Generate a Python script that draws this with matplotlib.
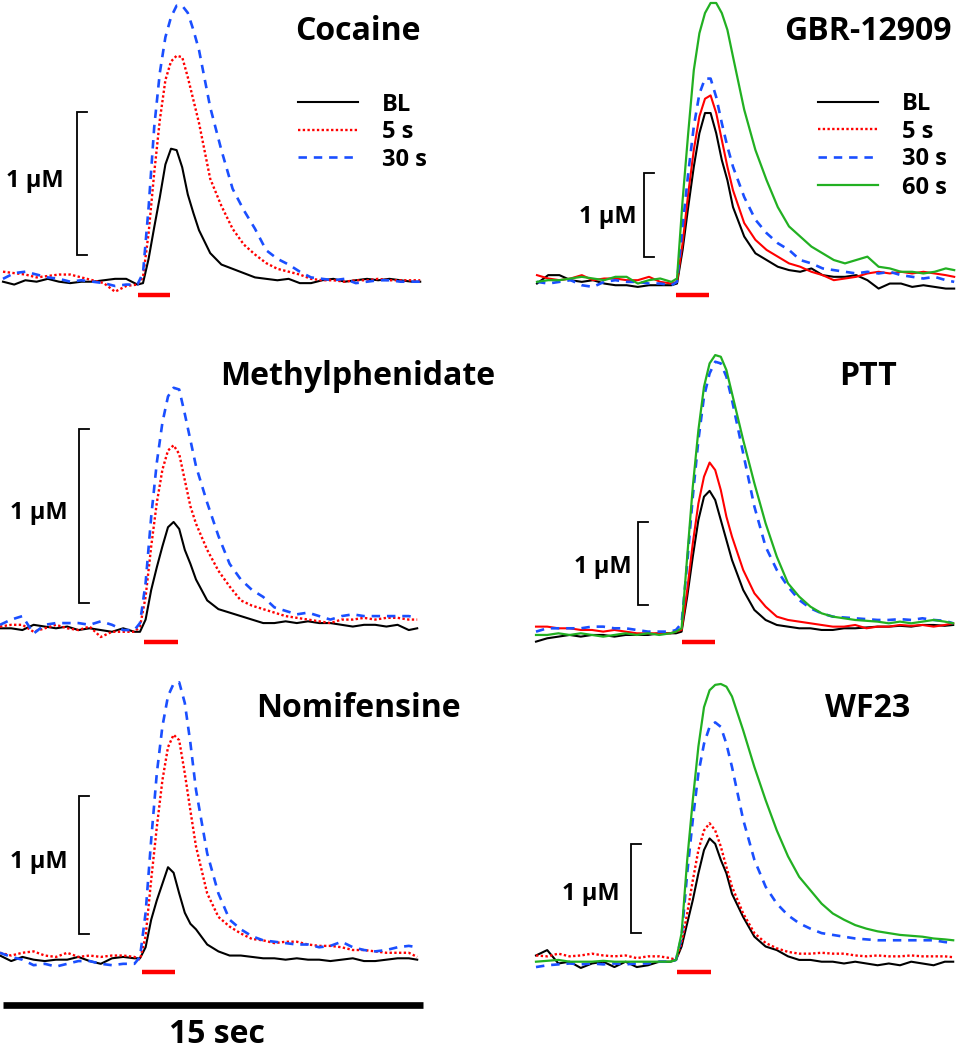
import matplotlib
matplotlib.use("Agg")
import matplotlib.pyplot as plt

plt.rcParams['font.family'] = ['Open Sans', 'DejaVu Sans']
plt.rcParams['font.weight'] = 'bold'

# ---------------- data ----------------
# sample times (s) shared by all traces
t = [0.0, 0.4, 0.8, 1.2, 1.6, 2.0, 2.4, 2.8, 3.2, 3.6, 4.0, 4.4, 4.8,
     5.0, 5.2, 5.4, 5.6, 5.8, 6.0, 6.2, 6.4, 6.6, 6.8, 7.0,
     7.4, 7.8, 8.2, 8.6, 9.0, 9.4, 9.8, 10.2, 10.6, 11.0, 11.4, 11.8,
     12.2, 12.6, 13.0, 13.4, 13.8, 14.2, 14.6, 14.9]

# dopamine concentration (uM)
cocaine_bl = [0.00, -0.02, 0.01, 0.00, 0.02, 0.00, -0.01, 0.00, 0.00, 0.01, 0.02, 0.02, -0.02,
              -0.01, 0.16, 0.38, 0.59, 0.82, 0.93, 0.92, 0.80, 0.61, 0.48, 0.36,
              0.20, 0.12, 0.09, 0.06, 0.03, 0.02, 0.01, 0.02, -0.01, -0.01, 0.01, 0.02,
              0.00, 0.01, 0.02, 0.01, 0.02, 0.01, 0.00, 0.00]
cocaine_5s = [0.07, 0.06, 0.05, 0.03, 0.04, 0.05, 0.05, 0.03, 0.01, -0.01, -0.07, -0.03, -0.02,
              0.03, 0.34, 0.76, 1.13, 1.41, 1.54, 1.58, 1.57, 1.43, 1.27, 1.11,
              0.72, 0.53, 0.37, 0.26, 0.19, 0.13, 0.09, 0.07, 0.05, 0.02, 0.01, 0.01,
              0.00, 0.01, 0.01, 0.02, 0.01, 0.01, 0.01, 0.01]
cocaine_30s = [0.02, 0.06, 0.07, 0.05, 0.03, 0.02, 0.00, 0.01, 0.00, -0.01, -0.03, -0.02, -0.02,
               0.06, 0.52, 1.08, 1.46, 1.71, 1.85, 1.93, 1.93, 1.88, 1.76, 1.62,
               1.22, 0.92, 0.65, 0.50, 0.37, 0.22, 0.16, 0.12, 0.07, 0.03, 0.02, 0.01,
               0.02, -0.01, 0.00, 0.01, 0.01, 0.00, 0.00, 0.00]

gbr_bl = [-0.01, 0.09, 0.09, 0.03, 0.01, 0.03, -0.01, -0.03, -0.03, -0.05, -0.03, -0.03, -0.03,
          -0.01, 0.39, 0.90, 1.38, 1.78, 2.02, 2.02, 1.78, 1.46, 1.22, 0.90,
          0.55, 0.35, 0.27, 0.19, 0.15, 0.13, 0.17, 0.09, 0.07, 0.07, 0.09, 0.03,
          -0.07, -0.01, -0.01, -0.05, -0.03, -0.05, -0.07, -0.07]
gbr_5s = [0.09, 0.05, 0.03, 0.05, 0.09, 0.03, 0.05, 0.05, 0.03, 0.03, 0.07, 0.01, -0.01,
          0.01, 0.47, 1.06, 1.58, 1.98, 2.19, 2.23, 2.02, 1.70, 1.38, 1.10,
          0.71, 0.51, 0.39, 0.31, 0.23, 0.19, 0.13, 0.09, 0.03, 0.05, 0.07, 0.11,
          0.13, 0.11, 0.13, 0.11, 0.13, 0.11, 0.09, 0.07]
gbr_30s = [0.01, -0.01, 0.01, 0.03, -0.03, -0.05, 0.01, 0.03, 0.01, 0.01, -0.01, -0.01, -0.03,
           0.01, 0.67, 1.30, 1.86, 2.25, 2.43, 2.43, 2.21, 1.90, 1.62, 1.38,
           1.02, 0.75, 0.59, 0.47, 0.39, 0.27, 0.23, 0.17, 0.15, 0.13, 0.11, 0.13,
           0.11, 0.13, 0.09, 0.07, 0.05, 0.07, 0.03, 0.01]
gbr_60s = [0.01, 0.03, 0.03, 0.05, 0.07, 0.05, 0.03, 0.07, 0.07, -0.01, 0.03, 0.05, 0.01,
           0.05, 0.98, 1.78, 2.53, 2.97, 3.21, 3.33, 3.33, 3.21, 3.01, 2.69,
           2.06, 1.58, 1.22, 0.90, 0.67, 0.55, 0.43, 0.35, 0.27, 0.23, 0.27, 0.31,
           0.19, 0.17, 0.13, 0.13, 0.11, 0.13, 0.17, 0.15]

mph_bl = [0.00, 0.00, -0.01, 0.02, 0.01, 0.00, 0.01, -0.01, 0.00, -0.01, -0.02, 0.00, -0.02,
          -0.02, 0.05, 0.22, 0.35, 0.47, 0.58, 0.61, 0.57, 0.45, 0.37, 0.28,
          0.16, 0.11, 0.09, 0.07, 0.05, 0.03, 0.03, 0.04, 0.03, 0.04, 0.03, 0.03,
          0.02, 0.01, 0.02, 0.02, 0.01, 0.02, -0.01, 0.00]
mph_5s = [0.01, 0.02, 0.02, -0.02, 0.00, 0.02, 0.00, -0.01, 0.01, -0.05, -0.02, -0.02, -0.02,
          0.01, 0.18, 0.47, 0.72, 0.91, 1.02, 1.05, 1.00, 0.85, 0.70, 0.60,
          0.45, 0.33, 0.24, 0.16, 0.13, 0.11, 0.09, 0.07, 0.06, 0.05, 0.04, 0.03,
          0.05, 0.05, 0.06, 0.05, 0.06, 0.06, 0.05, 0.05]
mph_30s = [0.02, 0.05, 0.07, -0.03, 0.02, 0.03, 0.03, 0.03, 0.02, 0.04, 0.02, -0.01, -0.01,
           0.03, 0.26, 0.64, 0.95, 1.18, 1.33, 1.38, 1.37, 1.23, 1.08, 0.93,
           0.72, 0.53, 0.37, 0.28, 0.22, 0.18, 0.12, 0.10, 0.08, 0.09, 0.07, 0.05,
           0.07, 0.08, 0.07, 0.07, 0.07, 0.07, 0.07, 0.06]

ptt_bl = [-0.16, -0.12, -0.10, -0.08, -0.10, -0.08, -0.08, -0.10, -0.08, -0.08, -0.08, -0.06, -0.06,
          -0.06, -0.04, 0.38, 0.86, 1.30, 1.58, 1.65, 1.54, 1.30, 1.06, 0.82,
          0.46, 0.22, 0.10, 0.04, 0.02, 0.00, 0.00, -0.02, -0.02, 0.00, 0.00, 0.01,
          0.02, 0.02, 0.03, 0.02, 0.04, 0.04, 0.03, 0.04]
ptt_5s = [0.02, 0.02, 0.00, 0.00, -0.02, -0.02, -0.04, -0.02, -0.04, -0.06, -0.06, -0.06, -0.06,
          -0.04, -0.02, 0.46, 1.02, 1.50, 1.82, 1.99, 1.90, 1.66, 1.34, 1.10,
          0.70, 0.42, 0.26, 0.14, 0.10, 0.08, 0.06, 0.04, 0.02, 0.02, 0.04, 0.00,
          0.02, 0.02, 0.04, 0.03, 0.04, 0.02, 0.04, 0.06]
ptt_30s = [-0.04, 0.00, 0.00, 0.00, 0.00, 0.02, 0.02, 0.00, 0.00, -0.02, -0.04, -0.04, -0.04,
           -0.02, 0.06, 0.78, 1.58, 2.26, 2.78, 3.06, 3.20, 3.18, 3.02, 2.74,
           2.10, 1.46, 0.98, 0.70, 0.50, 0.34, 0.24, 0.18, 0.14, 0.13, 0.12, 0.11,
           0.10, 0.10, 0.11, 0.10, 0.12, 0.10, 0.09, 0.06]
ptt_60s = [-0.08, -0.08, -0.06, -0.08, -0.06, -0.08, -0.10, -0.08, -0.06, -0.08, -0.06, -0.08, -0.06,
           -0.04, 0.00, 0.86, 1.70, 2.38, 2.90, 3.18, 3.28, 3.26, 3.10, 2.82,
           2.26, 1.74, 1.26, 0.86, 0.54, 0.38, 0.26, 0.18, 0.14, 0.12, 0.10, 0.09,
           0.08, 0.06, 0.08, 0.06, 0.08, 0.10, 0.08, 0.06]

nomi_bl = [0.02, -0.02, 0.01, -0.01, -0.02, -0.01, -0.01, 0.01, -0.02, -0.04, 0.00, 0.01, 0.00,
           0.00, 0.08, 0.28, 0.42, 0.54, 0.66, 0.62, 0.47, 0.33, 0.25, 0.21,
           0.10, 0.05, 0.02, 0.02, 0.01, 0.00, 0.00, -0.01, 0.00, -0.01, -0.01, -0.02,
           -0.01, 0.00, -0.02, -0.02, -0.01, 0.00, 0.00, -0.01]
nomi_5s = [0.04, 0.02, 0.04, 0.05, 0.02, 0.01, 0.04, 0.01, 0.02, 0.01, 0.02, 0.02, 0.01,
           -0.01, 0.16, 0.57, 0.95, 1.29, 1.53, 1.62, 1.58, 1.34, 1.07, 0.81,
           0.47, 0.30, 0.23, 0.18, 0.14, 0.13, 0.11, 0.12, 0.12, 0.10, 0.09, 0.09,
           0.08, 0.06, 0.06, 0.05, 0.04, 0.04, 0.04, 0.01]
nomi_30s = [0.04, 0.01, -0.01, -0.05, -0.04, -0.06, -0.04, -0.02, -0.02, -0.04, -0.05, -0.04, -0.04,
            0.01, 0.33, 0.86, 1.34, 1.68, 1.90, 1.99, 2.00, 1.85, 1.56, 1.22,
            0.76, 0.47, 0.28, 0.21, 0.16, 0.13, 0.12, 0.11, 0.10, 0.10, 0.08, 0.09,
            0.12, 0.08, 0.06, 0.05, 0.06, 0.08, 0.09, 0.08]

wf23_bl = [0.07, 0.13, -0.02, 0.00, -0.07, -0.02, 0.00, -0.06, 0.00, -0.06, -0.04, 0.00, 0.00,
           0.02, 0.17, 0.43, 0.69, 0.99, 1.25, 1.38, 1.32, 1.14, 0.99, 0.76,
           0.50, 0.28, 0.17, 0.13, 0.06, 0.02, 0.02, 0.00, 0.00, -0.02, 0.00, -0.02,
           -0.04, -0.02, -0.04, 0.00, -0.02, -0.04, 0.00, 0.00]
wf23_5s = [0.07, 0.06, 0.09, 0.06, 0.07, 0.09, 0.07, 0.06, 0.07, 0.04, 0.06, 0.06, 0.04,
           0.02, 0.21, 0.54, 0.91, 1.25, 1.47, 1.55, 1.47, 1.29, 1.06, 0.84,
           0.54, 0.32, 0.21, 0.15, 0.11, 0.09, 0.09, 0.10, 0.09, 0.09, 0.07, 0.06,
           0.07, 0.06, 0.06, 0.07, 0.06, 0.06, 0.06, 0.05]
wf23_30s = [-0.06, -0.04, -0.03, -0.02, -0.03, -0.02, -0.03, -0.02, -0.03, -0.02, -0.02, 0.00, 0.00,
            0.02, 0.28, 0.99, 1.59, 2.11, 2.44, 2.63, 2.68, 2.63, 2.44, 2.18,
            1.59, 1.14, 0.84, 0.65, 0.52, 0.43, 0.37, 0.32, 0.30, 0.28, 0.26, 0.25,
            0.24, 0.24, 0.24, 0.24, 0.24, 0.24, 0.22, 0.21]
wf23_60s = [0.00, 0.01, 0.02, 0.00, 0.00, 0.00, 0.01, 0.00, 0.00, 0.00, 0.00, 0.00, 0.00,
            0.02, 0.32, 1.14, 1.81, 2.41, 2.85, 3.04, 3.10, 3.11, 3.08, 2.97,
            2.59, 2.18, 1.81, 1.47, 1.18, 0.95, 0.80, 0.65, 0.54, 0.47, 0.41, 0.37,
            0.34, 0.32, 0.30, 0.29, 0.28, 0.26, 0.25, 0.24]

drug_names = ['Cocaine', 'GBR-12909', 'Methylphenidate', 'PTT', 'Nomifensine', 'WF23']
legend_labels = ['BL', '5 s', '30 s', '60 s']
stim_on = [4.82, 4.96, 5.14, 5.21, 5.07, 5.04]     # s
stim_off = [5.96, 6.14, 6.36, 6.39, 6.25, 6.25]    # s
scale_label = '1 \u00b5M'
time_label = '15 sec'
time_bar_s = 15.0

# ---------------- styles ----------------
RED = '#ff0000'
BLUE = '#1a4fff'
GREEN = '#22b022'
BLACK = '#000000'
sty = {
    'bl': dict(color=BLACK, lw=1.5, ls='-'),
    '5s': dict(color=RED, lw=1.7, ls=(0, (1.0, 1.0))),
    '5s_solid': dict(color=RED, lw=1.5, ls='-'),
    '30s': dict(color=BLUE, lw=1.9, ls=(0, (3.2, 2.6))),
    '60s': dict(color=GREEN, lw=1.6, ls='-'),
}

W, H = 962, 1050
PX_PER_S = 28.0

# layout per panel (pixel geometry)
panels = [
    dict(name=drug_names[0], x0=3, ybase=281.7, ppu=143.0,
         traces=[(cocaine_bl, 'bl'), (cocaine_5s, '5s'), (cocaine_30s, '30s')],
         bar_x=77, bar_bot=255, label_xy=(35, 187), title_xy=(358, 40),
         stim_y=295, stim_idx=0),
    dict(name=drug_names[1], x0=537, ybase=282.7, ppu=84.0,
         traces=[(gbr_bl, 'bl'), (gbr_5s, '5s_solid'), (gbr_30s, '30s'), (gbr_60s, '60s')],
         bar_x=644, bar_bot=257, label_xy=(608, 222.7), title_xy=(868, 40),
         stim_y=295, stim_idx=1),
    dict(name=drug_names[2], x0=0, ybase=628.3, ppu=174.3,
         traces=[(mph_bl, 'bl'), (mph_5s, '5s'), (mph_30s, '30s')],
         bar_x=79, bar_bot=603, label_xy=(38.5, 519.3), title_xy=(358, 385),
         stim_y=642, stim_idx=2),
    dict(name=drug_names[3], x0=536, ybase=628.3, ppu=83.3,
         traces=[(ptt_bl, 'bl'), (ptt_5s, '5s_solid'), (ptt_30s, '30s'), (ptt_60s, '60s')],
         bar_x=638, bar_bot=605, label_xy=(603, 573.3), title_xy=(868, 385),
         stim_y=642, stim_idx=3),
    dict(name=drug_names[4], x0=0, ybase=958.3, ppu=138.0,
         traces=[(nomi_bl, 'bl'), (nomi_5s, '5s'), (nomi_30s, '30s')],
         bar_x=79, bar_bot=934, label_xy=(39, 868.3), title_xy=(358, 716.7),
         stim_y=972, stim_idx=4),
    dict(name=drug_names[5], x0=536, ybase=961.7, ppu=89.3,
         traces=[(wf23_bl, 'bl'), (wf23_5s, '5s'), (wf23_30s, '30s'), (wf23_60s, '60s')],
         bar_x=631, bar_bot=933, label_xy=(591, 900), title_xy=(868, 716.7),
         stim_y=972, stim_idx=5),
]

fig = plt.figure(figsize=(W / 100, H / 100), dpi=100)
fig.patch.set_facecolor('white')

ov = fig.add_axes([0, 0, 1, 1])
ov.set_xlim(0, W)
ov.set_ylim(H, 0)
ov.axis('off')

TITLE_FS = 23
SMALL_FS = 17
TICK_PX = 10

for p in panels:
    ax = fig.add_axes([0, 0, 1, 1])
    ax.axis('off')
    ax.patch.set_alpha(0)
    x0, yb, ppu = p['x0'], p['ybase'], p['ppu']
    ax.set_xlim((0 - x0) / PX_PER_S, (W - x0) / PX_PER_S)
    ax.set_ylim((yb - H) / ppu, yb / ppu)
    for series, key in p['traces']:
        s = sty[key]
        ax.plot(t, series, color=s['color'], lw=s['lw'], ls=s['ls'],
                clip_on=False, solid_joinstyle='round', dash_capstyle='butt')
    # 1 uM scale bar
    tb = (p['bar_x'] - x0) / PX_PER_S
    cb = (yb - p['bar_bot']) / ppu
    tk = TICK_PX / PX_PER_S
    ax.plot([tb + tk, tb, tb, tb + tk], [cb, cb, cb + 1.0, cb + 1.0],
            color='black', lw=1.3, clip_on=False, solid_joinstyle='miter')
    # stimulation bar
    i = p['stim_idx']
    cs = (yb - p['stim_y']) / ppu
    ax.plot([stim_on[i], stim_off[i]], [cs, cs], color=RED, lw=3.2,
            solid_capstyle='butt', clip_on=False)
    # texts
    ov.text(p['label_xy'][0], p['label_xy'][1], scale_label, ha='center',
            va='baseline', fontsize=SMALL_FS, fontweight='bold')
    ov.text(p['title_xy'][0], p['title_xy'][1], p['name'], ha='center',
            va='baseline', fontsize=TITLE_FS, fontweight='bold')
    p['ax'] = ax

# time scale bar (15 s) drawn in the Nomifensine panel
pn = panels[4]
ax_n = pn['ax']
t_start = (3.3 - pn['x0']) / PX_PER_S
c_bar = (pn['ybase'] - 1005) / pn['ppu']
ax_n.plot([t_start, t_start + time_bar_s], [c_bar, c_bar], color='black',
          lw=4.8, solid_capstyle='butt', clip_on=False)
ov.text(217, 1043, time_label, ha='center', va='baseline',
        fontsize=TITLE_FS, fontweight='bold')

# legends
leg1_y = [102.3, 130, 157.3]
leg1_keys = ['bl', '5s', '30s']
for k, (yy, key) in enumerate(zip(leg1_y, leg1_keys)):
    s = sty[key]
    ov.plot([298, 358], [yy, yy], color=s['color'], lw=s['lw'], ls=s['ls'],
            dash_capstyle='butt')
    ov.text(382, yy + 8.5, legend_labels[k], ha='left', va='baseline',
            fontsize=SMALL_FS, fontweight='bold')

leg2_y = [101.7, 129.3, 156.7, 185]
leg2_keys = ['bl', '5s', '30s', '60s']
for k, (yy, key) in enumerate(zip(leg2_y, leg2_keys)):
    s = sty[key]
    ov.plot([818, 878], [yy, yy], color=s['color'], lw=s['lw'], ls=s['ls'],
            dash_capstyle='butt')
    ov.text(902, yy + 8.5, legend_labels[k], ha='left', va='baseline',
            fontsize=SMALL_FS, fontweight='bold')

fig.savefig('out.png', dpi=100, facecolor='white')
